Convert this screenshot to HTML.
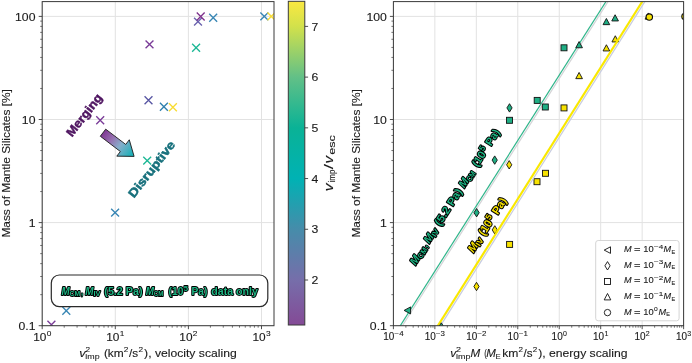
<!DOCTYPE html><html><head><meta charset="utf-8"><style>html,body{margin:0;padding:0;background:#fff;overflow:hidden}svg{display:block;will-change:transform;font-family:"Liberation Sans", sans-serif;}.t{stroke:#1a1a1a;stroke-width:0.12px;}.t2{stroke:#1a1a1a;stroke-width:0.1px;}</style></head><body>
<svg width="692" height="363" viewBox="0 0 692 363">
<defs>
<clipPath id="cl"><rect x="42.2" y="1.6" width="231.8" height="324.09999999999997"/></clipPath>
<clipPath id="cr"><rect x="393.4" y="1.6" width="290.20000000000005" height="324.09999999999997"/></clipPath>
<linearGradient id="cbg" x1="0" y1="0" x2="0" y2="1">
<stop offset="0.0000" stop-color="#fae841"/>
<stop offset="0.0775" stop-color="#d2e14b"/>
<stop offset="0.2342" stop-color="#62c087"/>
<stop offset="0.3909" stop-color="#0ab296"/>
<stop offset="0.5476" stop-color="#00b2b4"/>
<stop offset="0.7043" stop-color="#468caa"/>
<stop offset="0.8610" stop-color="#766eaa"/>
<stop offset="1.0000" stop-color="#844a96"/>
</linearGradient>
<linearGradient id="arrg" gradientUnits="userSpaceOnUse" x1="101" y1="131" x2="132" y2="154"><stop offset="0" stop-color="#7a2a8c"/><stop offset="0.35" stop-color="#9670b0"/><stop offset="0.62" stop-color="#86aecb"/><stop offset="1" stop-color="#1eb0b8"/></linearGradient>
</defs>
<rect width="692" height="363" fill="#fff"/>
<line x1="42.20" y1="1.60" x2="42.20" y2="325.70" stroke="#e2e2e2" stroke-width="1" />
<line x1="115.30" y1="1.60" x2="115.30" y2="325.70" stroke="#e2e2e2" stroke-width="1" />
<line x1="188.40" y1="1.60" x2="188.40" y2="325.70" stroke="#e2e2e2" stroke-width="1" />
<line x1="261.50" y1="1.60" x2="261.50" y2="325.70" stroke="#e2e2e2" stroke-width="1" />
<line x1="42.20" y1="325.70" x2="274.00" y2="325.70" stroke="#e2e2e2" stroke-width="1" />
<line x1="42.20" y1="222.60" x2="274.00" y2="222.60" stroke="#e2e2e2" stroke-width="1" />
<line x1="42.20" y1="119.50" x2="274.00" y2="119.50" stroke="#e2e2e2" stroke-width="1" />
<line x1="42.20" y1="16.40" x2="274.00" y2="16.40" stroke="#e2e2e2" stroke-width="1" />
<g clip-path="url(#cl)">
<path d="M145.55 40.45L153.45 48.35M145.55 48.35L153.45 40.45" stroke="#7a3c98" stroke-width="1.35" fill="none"/>
<path d="M194.05 17.65L201.95 25.55M194.05 25.55L201.95 17.65" stroke="#6a62ae" stroke-width="1.35" fill="none"/>
<path d="M196.75 12.55L204.65 20.45M196.75 20.45L204.65 12.55" stroke="#80348e" stroke-width="1.35" fill="none"/>
<path d="M209.25 13.85L217.15 21.75M209.25 21.75L217.15 13.85" stroke="#3886b4" stroke-width="1.35" fill="none"/>
<path d="M192.15 43.85L200.05 51.75M192.15 51.75L200.05 43.85" stroke="#1eb896" stroke-width="1.35" fill="none"/>
<path d="M260.35 12.45L268.25 20.35M260.35 20.35L268.25 12.45" stroke="#3886b4" stroke-width="1.35" fill="none"/>
<path d="M267.45 12.45L275.35 20.35M267.45 20.35L275.35 12.45" stroke="#f8dc34" stroke-width="1.35" fill="none"/>
<path d="M96.25 116.25L104.15 124.15M96.25 124.15L104.15 116.25" stroke="#7a3c98" stroke-width="1.35" fill="none"/>
<path d="M144.55 96.25L152.45 104.15M144.55 104.15L152.45 96.25" stroke="#5a58a4" stroke-width="1.35" fill="none"/>
<path d="M159.95 102.85L167.85 110.75M159.95 110.75L167.85 102.85" stroke="#2f80ae" stroke-width="1.35" fill="none"/>
<path d="M168.95 103.35L176.85 111.25M168.95 111.25L176.85 103.35" stroke="#f8dc34" stroke-width="1.35" fill="none"/>
<path d="M143.25 156.65L151.15 164.55M143.25 164.55L151.15 156.65" stroke="#1eb896" stroke-width="1.35" fill="none"/>
<path d="M111.15 208.65L119.05 216.55M111.15 216.55L119.05 208.65" stroke="#3886b4" stroke-width="1.35" fill="none"/>
<path d="M62.35 306.75L70.25 314.65M62.35 314.65L70.25 306.75" stroke="#3886b4" stroke-width="1.35" fill="none"/>
<path d="M47.45 320.85L55.35 328.75M47.45 328.75L55.35 320.85" stroke="#7a3c98" stroke-width="1.35" fill="none"/>
</g>
<polygon points="100.30,136.24 120.35,151.51 116.80,156.17 134.10,156.40 129.29,139.78 125.74,144.44 105.70,129.16" fill="url(#arrg)" stroke="#1a1a1a" stroke-width="0.9" stroke-linejoin="miter"/>
<text id="merg" x="0" y="0" font-size="12.1" font-weight="bold" fill="#4e1460" stroke="#4e1460" stroke-width="0.5" transform="translate(71.9,137.6) rotate(-52) " textLength="50.5" lengthAdjust="spacingAndGlyphs">Merging</text>
<text id="disr" x="0" y="0" font-size="12.1" font-weight="bold" fill="#17707c" stroke="#17707c" stroke-width="0.5" transform="translate(134.0,198.5) rotate(-52)" textLength="68" lengthAdjust="spacingAndGlyphs">Disruptive</text>
<rect x="51.3" y="275.0" width="216.5" height="31.6" rx="8" ry="8" fill="#fff" stroke="#2a2a2a" stroke-width="1.2"/>
<g id="lbtx" transform="translate(61.2,294.8)" stroke="#000" stroke-width="1.9" paint-order="stroke" stroke-linejoin="round"><text x="0.40" y="0.00" font-size="10.0" font-style="italic" font-weight="bold" textLength="8.20" lengthAdjust="spacingAndGlyphs" fill="#1db483" >M</text><text x="8.40" y="1.60" font-size="7.0" font-weight="bold" textLength="10.60" lengthAdjust="spacingAndGlyphs" fill="#1db483" >CM</text><text x="19.80" y="0.00" font-size="10.0" font-weight="bold" textLength="2.20" lengthAdjust="spacingAndGlyphs" fill="#1db483" >,</text><text x="24.10" y="0.00" font-size="10.0" font-style="italic" font-weight="bold" textLength="8.30" lengthAdjust="spacingAndGlyphs" fill="#1db483" >M</text><text x="32.20" y="1.60" font-size="7.0" font-weight="bold" textLength="7.00" lengthAdjust="spacingAndGlyphs" fill="#1db483" >IV</text><text x="43.10" y="0.00" font-size="10.0" font-weight="bold" textLength="38.30" lengthAdjust="spacingAndGlyphs" fill="#1db483" >(5.2 Pa)</text><text x="84.50" y="0.00" font-size="10.0" font-style="italic" font-weight="bold" textLength="8.30" lengthAdjust="spacingAndGlyphs" fill="#1db483" >M</text><text x="92.60" y="1.60" font-size="7.0" font-weight="bold" textLength="9.60" lengthAdjust="spacingAndGlyphs" fill="#1db483" >CM</text><text x="107.40" y="0.00" font-size="10.0" font-weight="bold" textLength="14.80" lengthAdjust="spacingAndGlyphs" fill="#1db483" >(10</text><text x="122.50" y="-3.40" font-size="7.6" font-weight="bold" textLength="4.30" lengthAdjust="spacingAndGlyphs" fill="#1db483" >5</text><text x="130.40" y="0.00" font-size="10.0" font-weight="bold" textLength="15.80" lengthAdjust="spacingAndGlyphs" fill="#1db483" >Pa)</text><text x="150.10" y="0.00" font-size="10.0" font-weight="bold" textLength="46.70" lengthAdjust="spacingAndGlyphs" fill="#1db483" >data only</text></g>
<line x1="38.70" y1="325.70" x2="42.20" y2="325.70" stroke="#3a3a3a" stroke-width="0.9" />
<line x1="40.20" y1="294.66" x2="42.20" y2="294.66" stroke="#3a3a3a" stroke-width="0.7" />
<line x1="40.20" y1="276.51" x2="42.20" y2="276.51" stroke="#3a3a3a" stroke-width="0.7" />
<line x1="40.20" y1="263.63" x2="42.20" y2="263.63" stroke="#3a3a3a" stroke-width="0.7" />
<line x1="40.20" y1="253.64" x2="42.20" y2="253.64" stroke="#3a3a3a" stroke-width="0.7" />
<line x1="40.20" y1="245.47" x2="42.20" y2="245.47" stroke="#3a3a3a" stroke-width="0.7" />
<line x1="40.20" y1="238.57" x2="42.20" y2="238.57" stroke="#3a3a3a" stroke-width="0.7" />
<line x1="40.20" y1="232.59" x2="42.20" y2="232.59" stroke="#3a3a3a" stroke-width="0.7" />
<line x1="40.20" y1="227.32" x2="42.20" y2="227.32" stroke="#3a3a3a" stroke-width="0.7" />
<line x1="38.70" y1="222.60" x2="42.20" y2="222.60" stroke="#3a3a3a" stroke-width="0.9" />
<line x1="40.20" y1="191.56" x2="42.20" y2="191.56" stroke="#3a3a3a" stroke-width="0.7" />
<line x1="40.20" y1="173.41" x2="42.20" y2="173.41" stroke="#3a3a3a" stroke-width="0.7" />
<line x1="40.20" y1="160.53" x2="42.20" y2="160.53" stroke="#3a3a3a" stroke-width="0.7" />
<line x1="40.20" y1="150.54" x2="42.20" y2="150.54" stroke="#3a3a3a" stroke-width="0.7" />
<line x1="40.20" y1="142.37" x2="42.20" y2="142.37" stroke="#3a3a3a" stroke-width="0.7" />
<line x1="40.20" y1="135.47" x2="42.20" y2="135.47" stroke="#3a3a3a" stroke-width="0.7" />
<line x1="40.20" y1="129.49" x2="42.20" y2="129.49" stroke="#3a3a3a" stroke-width="0.7" />
<line x1="40.20" y1="124.22" x2="42.20" y2="124.22" stroke="#3a3a3a" stroke-width="0.7" />
<line x1="38.70" y1="119.50" x2="42.20" y2="119.50" stroke="#3a3a3a" stroke-width="0.9" />
<line x1="40.20" y1="88.46" x2="42.20" y2="88.46" stroke="#3a3a3a" stroke-width="0.7" />
<line x1="40.20" y1="70.31" x2="42.20" y2="70.31" stroke="#3a3a3a" stroke-width="0.7" />
<line x1="40.20" y1="57.43" x2="42.20" y2="57.43" stroke="#3a3a3a" stroke-width="0.7" />
<line x1="40.20" y1="47.44" x2="42.20" y2="47.44" stroke="#3a3a3a" stroke-width="0.7" />
<line x1="40.20" y1="39.27" x2="42.20" y2="39.27" stroke="#3a3a3a" stroke-width="0.7" />
<line x1="40.20" y1="32.37" x2="42.20" y2="32.37" stroke="#3a3a3a" stroke-width="0.7" />
<line x1="40.20" y1="26.39" x2="42.20" y2="26.39" stroke="#3a3a3a" stroke-width="0.7" />
<line x1="40.20" y1="21.12" x2="42.20" y2="21.12" stroke="#3a3a3a" stroke-width="0.7" />
<line x1="38.70" y1="16.40" x2="42.20" y2="16.40" stroke="#3a3a3a" stroke-width="0.9" />
<line x1="42.20" y1="325.70" x2="42.20" y2="329.20" stroke="#3a3a3a" stroke-width="0.9" />
<line x1="64.21" y1="325.70" x2="64.21" y2="327.70" stroke="#3a3a3a" stroke-width="0.7" />
<line x1="77.08" y1="325.70" x2="77.08" y2="327.70" stroke="#3a3a3a" stroke-width="0.7" />
<line x1="86.21" y1="325.70" x2="86.21" y2="327.70" stroke="#3a3a3a" stroke-width="0.7" />
<line x1="93.29" y1="325.70" x2="93.29" y2="327.70" stroke="#3a3a3a" stroke-width="0.7" />
<line x1="99.08" y1="325.70" x2="99.08" y2="327.70" stroke="#3a3a3a" stroke-width="0.7" />
<line x1="103.98" y1="325.70" x2="103.98" y2="327.70" stroke="#3a3a3a" stroke-width="0.7" />
<line x1="108.22" y1="325.70" x2="108.22" y2="327.70" stroke="#3a3a3a" stroke-width="0.7" />
<line x1="111.96" y1="325.70" x2="111.96" y2="327.70" stroke="#3a3a3a" stroke-width="0.7" />
<line x1="115.30" y1="325.70" x2="115.30" y2="329.20" stroke="#3a3a3a" stroke-width="0.9" />
<line x1="137.31" y1="325.70" x2="137.31" y2="327.70" stroke="#3a3a3a" stroke-width="0.7" />
<line x1="150.18" y1="325.70" x2="150.18" y2="327.70" stroke="#3a3a3a" stroke-width="0.7" />
<line x1="159.31" y1="325.70" x2="159.31" y2="327.70" stroke="#3a3a3a" stroke-width="0.7" />
<line x1="166.39" y1="325.70" x2="166.39" y2="327.70" stroke="#3a3a3a" stroke-width="0.7" />
<line x1="172.18" y1="325.70" x2="172.18" y2="327.70" stroke="#3a3a3a" stroke-width="0.7" />
<line x1="177.08" y1="325.70" x2="177.08" y2="327.70" stroke="#3a3a3a" stroke-width="0.7" />
<line x1="181.32" y1="325.70" x2="181.32" y2="327.70" stroke="#3a3a3a" stroke-width="0.7" />
<line x1="185.06" y1="325.70" x2="185.06" y2="327.70" stroke="#3a3a3a" stroke-width="0.7" />
<line x1="188.40" y1="325.70" x2="188.40" y2="329.20" stroke="#3a3a3a" stroke-width="0.9" />
<line x1="210.41" y1="325.70" x2="210.41" y2="327.70" stroke="#3a3a3a" stroke-width="0.7" />
<line x1="223.28" y1="325.70" x2="223.28" y2="327.70" stroke="#3a3a3a" stroke-width="0.7" />
<line x1="232.41" y1="325.70" x2="232.41" y2="327.70" stroke="#3a3a3a" stroke-width="0.7" />
<line x1="239.49" y1="325.70" x2="239.49" y2="327.70" stroke="#3a3a3a" stroke-width="0.7" />
<line x1="245.28" y1="325.70" x2="245.28" y2="327.70" stroke="#3a3a3a" stroke-width="0.7" />
<line x1="250.18" y1="325.70" x2="250.18" y2="327.70" stroke="#3a3a3a" stroke-width="0.7" />
<line x1="254.42" y1="325.70" x2="254.42" y2="327.70" stroke="#3a3a3a" stroke-width="0.7" />
<line x1="258.16" y1="325.70" x2="258.16" y2="327.70" stroke="#3a3a3a" stroke-width="0.7" />
<line x1="261.50" y1="325.70" x2="261.50" y2="329.20" stroke="#3a3a3a" stroke-width="0.9" />
<rect x="42.2" y="1.6" width="231.8" height="324.09999999999997" fill="none" stroke="#3a3a3a" stroke-width="1"/>
<text class="t" transform="translate(35.50,329.90) scale(1.095,1)" font-size="11.2" text-anchor="end" fill="#1a1a1a" >0.1</text>
<text class="t" transform="translate(386.90,329.90) scale(1.095,1)" font-size="11.2" text-anchor="end" fill="#1a1a1a" >0.1</text>
<text class="t" transform="translate(35.50,226.80) scale(1.095,1)" font-size="11.2" text-anchor="end" fill="#1a1a1a" >1</text>
<text class="t" transform="translate(386.90,226.80) scale(1.095,1)" font-size="11.2" text-anchor="end" fill="#1a1a1a" >1</text>
<text class="t" transform="translate(35.50,123.70) scale(1.095,1)" font-size="11.2" text-anchor="end" fill="#1a1a1a" >10</text>
<text class="t" transform="translate(386.90,123.70) scale(1.095,1)" font-size="11.2" text-anchor="end" fill="#1a1a1a" >10</text>
<text class="t" transform="translate(35.50,20.60) scale(1.095,1)" font-size="11.2" text-anchor="end" fill="#1a1a1a" >100</text>
<text class="t" transform="translate(386.90,20.60) scale(1.095,1)" font-size="11.2" text-anchor="end" fill="#1a1a1a" >100</text>
<g transform="translate(33.13,340.7)"><text class="t" x="0.00" y="0.00" font-size="11.2" textLength="13.20" lengthAdjust="spacingAndGlyphs" fill="#1a1a1a" >10</text><text class="t2" x="13.50" y="-4.90" font-size="7.6" textLength="4.64" lengthAdjust="spacingAndGlyphs" fill="#1a1a1a" >0</text></g>
<g transform="translate(106.23,340.7)"><text class="t" x="0.00" y="0.00" font-size="11.2" textLength="13.20" lengthAdjust="spacingAndGlyphs" fill="#1a1a1a" >10</text><text class="t2" x="13.50" y="-4.90" font-size="7.6" textLength="4.64" lengthAdjust="spacingAndGlyphs" fill="#1a1a1a" >1</text></g>
<g transform="translate(179.33,340.7)"><text class="t" x="0.00" y="0.00" font-size="11.2" textLength="13.20" lengthAdjust="spacingAndGlyphs" fill="#1a1a1a" >10</text><text class="t2" x="13.50" y="-4.90" font-size="7.6" textLength="4.64" lengthAdjust="spacingAndGlyphs" fill="#1a1a1a" >2</text></g>
<g transform="translate(252.43,340.7)"><text class="t" x="0.00" y="0.00" font-size="11.2" textLength="13.20" lengthAdjust="spacingAndGlyphs" fill="#1a1a1a" >10</text><text class="t2" x="13.50" y="-4.90" font-size="7.6" textLength="4.64" lengthAdjust="spacingAndGlyphs" fill="#1a1a1a" >3</text></g>
<g transform="translate(383.21,339.5)"><text class="t" x="0.00" y="0.00" font-size="10.08" textLength="11.09" lengthAdjust="spacingAndGlyphs" fill="#1a1a1a" >10</text><text class="t2" x="11.34" y="-3.50" font-size="6.38" textLength="9.04" lengthAdjust="spacingAndGlyphs" fill="#1a1a1a" >&#8722;4</text></g>
<g transform="translate(424.67,339.5)"><text class="t" x="0.00" y="0.00" font-size="10.08" textLength="11.09" lengthAdjust="spacingAndGlyphs" fill="#1a1a1a" >10</text><text class="t2" x="11.34" y="-3.50" font-size="6.38" textLength="9.04" lengthAdjust="spacingAndGlyphs" fill="#1a1a1a" >&#8722;3</text></g>
<g transform="translate(466.13,339.5)"><text class="t" x="0.00" y="0.00" font-size="10.08" textLength="11.09" lengthAdjust="spacingAndGlyphs" fill="#1a1a1a" >10</text><text class="t2" x="11.34" y="-3.50" font-size="6.38" textLength="9.04" lengthAdjust="spacingAndGlyphs" fill="#1a1a1a" >&#8722;2</text></g>
<g transform="translate(507.59,339.5)"><text class="t" x="0.00" y="0.00" font-size="10.08" textLength="11.09" lengthAdjust="spacingAndGlyphs" fill="#1a1a1a" >10</text><text class="t2" x="11.34" y="-3.50" font-size="6.38" textLength="9.04" lengthAdjust="spacingAndGlyphs" fill="#1a1a1a" >&#8722;1</text></g>
<g transform="translate(551.62,339.5)"><text class="t" x="0.00" y="0.00" font-size="10.08" textLength="11.09" lengthAdjust="spacingAndGlyphs" fill="#1a1a1a" >10</text><text class="t2" x="11.34" y="-3.50" font-size="6.38" textLength="3.90" lengthAdjust="spacingAndGlyphs" fill="#1a1a1a" >0</text></g>
<g transform="translate(593.08,339.5)"><text class="t" x="0.00" y="0.00" font-size="10.08" textLength="11.09" lengthAdjust="spacingAndGlyphs" fill="#1a1a1a" >10</text><text class="t2" x="11.34" y="-3.50" font-size="6.38" textLength="3.90" lengthAdjust="spacingAndGlyphs" fill="#1a1a1a" >1</text></g>
<g transform="translate(634.54,339.5)"><text class="t" x="0.00" y="0.00" font-size="10.08" textLength="11.09" lengthAdjust="spacingAndGlyphs" fill="#1a1a1a" >10</text><text class="t2" x="11.34" y="-3.50" font-size="6.38" textLength="3.90" lengthAdjust="spacingAndGlyphs" fill="#1a1a1a" >2</text></g>
<g transform="translate(676.00,339.5)"><text class="t" x="0.00" y="0.00" font-size="10.08" textLength="11.09" lengthAdjust="spacingAndGlyphs" fill="#1a1a1a" >10</text><text class="t2" x="11.34" y="-3.50" font-size="6.38" textLength="3.90" lengthAdjust="spacingAndGlyphs" fill="#1a1a1a" >3</text></g>
<text class="t" transform="translate(9.9,237.6) rotate(-90)" font-size="11.2" fill="#1a1a1a" textLength="148.4" lengthAdjust="spacingAndGlyphs">Mass of Mantle Silicates [%]</text>
<text class="t" transform="translate(360.2,237.6) rotate(-90)" font-size="11.2" fill="#1a1a1a" textLength="148.4" lengthAdjust="spacingAndGlyphs">Mass of Mantle Silicates [%]</text>
<g><text class="t" x="79.20" y="356.60" font-size="11.2" font-style="italic" textLength="6.40" lengthAdjust="spacingAndGlyphs" fill="#1a1a1a" >v</text><text class="t2" x="85.40" y="352.40" font-size="8.1" textLength="4.60" lengthAdjust="spacingAndGlyphs" fill="#1a1a1a" >2</text><text class="t2" x="85.30" y="358.60" font-size="8.1" textLength="14.30" lengthAdjust="spacingAndGlyphs" fill="#1a1a1a" >imp</text><text class="t" x="103.90" y="356.60" font-size="11.2" textLength="19.90" lengthAdjust="spacingAndGlyphs" fill="#1a1a1a" >(km</text><text class="t2" x="123.80" y="352.40" font-size="8.1" textLength="4.60" lengthAdjust="spacingAndGlyphs" fill="#1a1a1a" >2</text><text class="t" x="128.90" y="356.60" font-size="11.2" textLength="9.10" lengthAdjust="spacingAndGlyphs" fill="#1a1a1a" >/s</text><text class="t2" x="138.40" y="352.40" font-size="8.1" textLength="4.60" lengthAdjust="spacingAndGlyphs" fill="#1a1a1a" >2</text><text class="t" x="144.10" y="356.60" font-size="11.2" textLength="92.60" lengthAdjust="spacingAndGlyphs" fill="#1a1a1a" >), velocity scaling</text></g>
<g><text class="t" x="450.30" y="356.60" font-size="11.2" font-style="italic" textLength="6.00" lengthAdjust="spacingAndGlyphs" fill="#1a1a1a" >v</text><text class="t2" x="456.00" y="352.40" font-size="8.1" textLength="5.00" lengthAdjust="spacingAndGlyphs" fill="#1a1a1a" >2</text><text class="t2" x="456.00" y="358.60" font-size="8.1" textLength="14.40" lengthAdjust="spacingAndGlyphs" fill="#1a1a1a" >imp</text><text class="t" x="470.50" y="356.60" font-size="11.2" font-style="italic" textLength="9.70" lengthAdjust="spacingAndGlyphs" fill="#1a1a1a" >M</text><text class="t" x="484.20" y="356.60" font-size="11.2" textLength="2.60" lengthAdjust="spacingAndGlyphs" fill="#1a1a1a" >(</text><text class="t" x="486.30" y="356.60" font-size="11.2" font-style="italic" textLength="9.60" lengthAdjust="spacingAndGlyphs" fill="#1a1a1a" >M</text><text class="t2" x="495.50" y="358.60" font-size="8.1" textLength="5.20" lengthAdjust="spacingAndGlyphs" fill="#1a1a1a" >E</text><text class="t" x="502.20" y="356.60" font-size="11.2" textLength="16.20" lengthAdjust="spacingAndGlyphs" fill="#1a1a1a" >km</text><text class="t2" x="518.50" y="352.40" font-size="8.1" textLength="4.50" lengthAdjust="spacingAndGlyphs" fill="#1a1a1a" >2</text><text class="t" x="523.60" y="356.60" font-size="11.2" textLength="9.00" lengthAdjust="spacingAndGlyphs" fill="#1a1a1a" >/s</text><text class="t2" x="532.70" y="352.40" font-size="8.1" textLength="4.50" lengthAdjust="spacingAndGlyphs" fill="#1a1a1a" >2</text><text class="t" x="538.20" y="356.60" font-size="11.2" textLength="89.30" lengthAdjust="spacingAndGlyphs" fill="#1a1a1a" >), energy scaling</text></g>
<rect x="288.3" y="1.3" width="16.5" height="323.7" fill="url(#cbg)" stroke="#3a3a3a" stroke-width="1"/>
<line x1="304.80" y1="280.00" x2="308.10" y2="280.00" stroke="#3a3a3a" stroke-width="0.9" />
<text class="t" transform="translate(311.40,284.20) scale(1.095,1)" font-size="11.2" text-anchor="start" fill="#1a1a1a" >2</text>
<line x1="304.80" y1="229.28" x2="308.10" y2="229.28" stroke="#3a3a3a" stroke-width="0.9" />
<text class="t" transform="translate(311.40,233.48) scale(1.095,1)" font-size="11.2" text-anchor="start" fill="#1a1a1a" >3</text>
<line x1="304.80" y1="178.56" x2="308.10" y2="178.56" stroke="#3a3a3a" stroke-width="0.9" />
<text class="t" transform="translate(311.40,182.76) scale(1.095,1)" font-size="11.2" text-anchor="start" fill="#1a1a1a" >4</text>
<line x1="304.80" y1="127.84" x2="308.10" y2="127.84" stroke="#3a3a3a" stroke-width="0.9" />
<text class="t" transform="translate(311.40,132.04) scale(1.095,1)" font-size="11.2" text-anchor="start" fill="#1a1a1a" >5</text>
<line x1="304.80" y1="77.12" x2="308.10" y2="77.12" stroke="#3a3a3a" stroke-width="0.9" />
<text class="t" transform="translate(311.40,81.32) scale(1.095,1)" font-size="11.2" text-anchor="start" fill="#1a1a1a" >6</text>
<line x1="304.80" y1="26.40" x2="308.10" y2="26.40" stroke="#3a3a3a" stroke-width="0.9" />
<text class="t" transform="translate(311.40,30.60) scale(1.095,1)" font-size="11.2" text-anchor="start" fill="#1a1a1a" >7</text>
<g transform="translate(332.6,191.4) rotate(-90)"><text class="t" x="0.10" y="0.00" font-size="12.9" font-style="italic" textLength="7.80" lengthAdjust="spacingAndGlyphs" fill="#1a1a1a" >v</text><text class="t" x="9.00" y="2.40" font-size="9.0" textLength="12.80" lengthAdjust="spacingAndGlyphs" fill="#1a1a1a" >imp</text><text class="t" x="22.10" y="0.00" font-size="12.9" textLength="5.20" lengthAdjust="spacingAndGlyphs" fill="#1a1a1a" >/</text><text class="t" x="28.00" y="0.00" font-size="12.9" font-style="italic" textLength="7.60" lengthAdjust="spacingAndGlyphs" fill="#1a1a1a" >v</text><text class="t" x="36.70" y="2.40" font-size="9.0" textLength="19.60" lengthAdjust="spacingAndGlyphs" fill="#1a1a1a" >esc</text></g>
<line x1="393.40" y1="1.60" x2="393.40" y2="325.70" stroke="#e2e2e2" stroke-width="1" />
<line x1="434.86" y1="1.60" x2="434.86" y2="325.70" stroke="#e2e2e2" stroke-width="1" />
<line x1="476.32" y1="1.60" x2="476.32" y2="325.70" stroke="#e2e2e2" stroke-width="1" />
<line x1="517.78" y1="1.60" x2="517.78" y2="325.70" stroke="#e2e2e2" stroke-width="1" />
<line x1="559.24" y1="1.60" x2="559.24" y2="325.70" stroke="#e2e2e2" stroke-width="1" />
<line x1="600.70" y1="1.60" x2="600.70" y2="325.70" stroke="#e2e2e2" stroke-width="1" />
<line x1="642.16" y1="1.60" x2="642.16" y2="325.70" stroke="#e2e2e2" stroke-width="1" />
<line x1="683.62" y1="1.60" x2="683.62" y2="325.70" stroke="#e2e2e2" stroke-width="1" />
<line x1="393.40" y1="325.70" x2="683.60" y2="325.70" stroke="#e2e2e2" stroke-width="1" />
<line x1="393.40" y1="222.60" x2="683.60" y2="222.60" stroke="#e2e2e2" stroke-width="1" />
<line x1="393.40" y1="119.50" x2="683.60" y2="119.50" stroke="#e2e2e2" stroke-width="1" />
<line x1="393.40" y1="16.40" x2="683.60" y2="16.40" stroke="#e2e2e2" stroke-width="1" />
<g clip-path="url(#cr)">
<polygon points="494.80,225.70 497.40,229.90 494.80,234.10 492.20,229.90" fill="#f7e200" stroke="#111" stroke-width="0.9"/>
<polygon points="648.40,12.95 645.05,19.15 651.75,19.15" fill="#f7e200" stroke="#111" stroke-width="0.9"/>
<polygon points="476.50,282.30 479.10,286.50 476.50,290.70 473.90,286.50" fill="#f7e200" stroke="#111" stroke-width="0.9"/>
<polygon points="509.20,160.60 511.80,164.80 509.20,169.00 506.60,164.80" fill="#f7e200" stroke="#111" stroke-width="0.9"/>
<rect x="506.60" y="241.40" width="6.00" height="6.00" fill="#f7e200" stroke="#111" stroke-width="0.9"/>
<rect x="534.00" y="178.70" width="6.00" height="6.00" fill="#f7e200" stroke="#111" stroke-width="0.9"/>
<rect x="542.50" y="170.30" width="6.00" height="6.00" fill="#f7e200" stroke="#111" stroke-width="0.9"/>
<rect x="561.00" y="104.90" width="6.00" height="6.00" fill="#f7e200" stroke="#111" stroke-width="0.9"/>
<polygon points="579.10,72.45 575.75,78.65 582.45,78.65" fill="#f7e200" stroke="#111" stroke-width="0.9"/>
<polygon points="606.40,44.75 603.05,50.95 609.75,50.95" fill="#f7e200" stroke="#111" stroke-width="0.9"/>
<polygon points="615.30,35.75 611.95,41.95 618.65,41.95" fill="#f7e200" stroke="#111" stroke-width="0.9"/>
<circle cx="649.30" cy="17.10" r="3.2" fill="#f7e200" stroke="#111" stroke-width="1.1"/>
<circle cx="685.00" cy="16.50" r="3.2" fill="#f7e200" stroke="#111" stroke-width="1.1"/>
<line x1="398.42" y1="332.00" x2="610.41" y2="-2.10" stroke="#d3d3d6" stroke-width="1.2" />
<line x1="397.12" y1="330.70" x2="609.11" y2="-3.40" stroke="#2fb58a" stroke-width="1.2" />
<line x1="436.34" y1="332.30" x2="647.00" y2="-1.80" stroke="#c8cce0" stroke-width="1.3" />
<line x1="434.74" y1="330.70" x2="645.40" y2="-3.40" stroke="#f9e800" stroke-width="2.15" />
<polygon points="404.10,310.40 410.58,306.90 410.58,313.90" fill="#1fae84" stroke="#111" stroke-width="0.9"/>
<polygon points="441.30,322.80 443.90,327.00 441.30,331.20 438.70,327.00" fill="#1fae84" stroke="#111" stroke-width="0.9"/>
<polygon points="476.60,208.50 479.20,212.70 476.60,216.90 474.00,212.70" fill="#1fae84" stroke="#111" stroke-width="0.9"/>
<polygon points="494.70,155.90 497.30,160.10 494.70,164.30 492.10,160.10" fill="#1fae84" stroke="#111" stroke-width="0.9"/>
<polygon points="509.50,103.70 512.10,107.90 509.50,112.10 506.90,107.90" fill="#1fae84" stroke="#111" stroke-width="0.9"/>
<rect x="506.50" y="117.30" width="6.00" height="6.00" fill="#1fae84" stroke="#111" stroke-width="0.9"/>
<rect x="534.20" y="97.40" width="6.00" height="6.00" fill="#1fae84" stroke="#111" stroke-width="0.9"/>
<rect x="542.30" y="104.00" width="6.00" height="6.00" fill="#1fae84" stroke="#111" stroke-width="0.9"/>
<rect x="561.00" y="44.80" width="6.00" height="6.00" fill="#1fae84" stroke="#111" stroke-width="0.9"/>
<polygon points="579.10,41.55 575.75,47.75 582.45,47.75" fill="#1fae84" stroke="#111" stroke-width="0.9"/>
<polygon points="606.40,18.45 603.05,24.65 609.75,24.65" fill="#1fae84" stroke="#111" stroke-width="0.9"/>
<polygon points="615.10,14.75 611.75,20.95 618.45,20.95" fill="#1fae84" stroke="#111" stroke-width="0.9"/>
</g>
<g id="glab" transform="translate(415.2,266.0) rotate(-57.6) scale(1.085)" stroke="#000" stroke-width="1.9" paint-order="stroke" stroke-linejoin="round"><text x="0.40" y="0.00" font-size="10.0" font-style="italic" font-weight="bold" textLength="8.20" lengthAdjust="spacingAndGlyphs" fill="#1db483" >M</text><text x="8.40" y="1.60" font-size="7.0" font-weight="bold" textLength="10.60" lengthAdjust="spacingAndGlyphs" fill="#1db483" >CM</text><text x="19.80" y="0.00" font-size="10.0" font-weight="bold" textLength="2.20" lengthAdjust="spacingAndGlyphs" fill="#1db483" >,</text><text x="24.10" y="0.00" font-size="10.0" font-style="italic" font-weight="bold" textLength="8.30" lengthAdjust="spacingAndGlyphs" fill="#1db483" >M</text><text x="32.20" y="1.60" font-size="7.0" font-weight="bold" textLength="7.00" lengthAdjust="spacingAndGlyphs" fill="#1db483" >IV</text><text x="43.10" y="0.00" font-size="10.0" font-weight="bold" textLength="38.30" lengthAdjust="spacingAndGlyphs" fill="#1db483" >(5.2 Pa)</text><text x="84.50" y="0.00" font-size="10.0" font-style="italic" font-weight="bold" textLength="8.30" lengthAdjust="spacingAndGlyphs" fill="#1db483" >M</text><text x="92.60" y="1.60" font-size="7.0" font-weight="bold" textLength="9.60" lengthAdjust="spacingAndGlyphs" fill="#1db483" >CM</text><text x="107.40" y="0.00" font-size="10.0" font-weight="bold" textLength="14.80" lengthAdjust="spacingAndGlyphs" fill="#1db483" >(10</text><text x="122.50" y="-3.40" font-size="7.6" font-weight="bold" textLength="4.30" lengthAdjust="spacingAndGlyphs" fill="#1db483" >5</text><text x="130.40" y="0.00" font-size="10.0" font-weight="bold" textLength="15.80" lengthAdjust="spacingAndGlyphs" fill="#1db483" >Pa)</text></g>
<g id="ylab" transform="translate(473.3,253.6) rotate(-57.6) scale(1.1)" stroke="#000" stroke-width="1.9" paint-order="stroke" stroke-linejoin="round"><text x="0.40" y="0.00" font-size="10.0" font-style="italic" font-weight="bold" textLength="8.30" lengthAdjust="spacingAndGlyphs" fill="#f5e000" >M</text><text x="8.50" y="1.60" font-size="7.0" font-weight="bold" textLength="7.00" lengthAdjust="spacingAndGlyphs" fill="#f5e000" >IV</text><text x="18.70" y="0.00" font-size="10.0" font-weight="bold" textLength="14.40" lengthAdjust="spacingAndGlyphs" fill="#f5e000" >(10</text><text x="33.40" y="-3.40" font-size="7.6" font-weight="bold" textLength="4.30" lengthAdjust="spacingAndGlyphs" fill="#f5e000" >5</text><text x="41.30" y="0.00" font-size="10.0" font-weight="bold" textLength="15.80" lengthAdjust="spacingAndGlyphs" fill="#f5e000" >Pa)</text></g>
<rect x="595.7" y="240.5" width="83.4" height="80.3" rx="2.5" ry="2.5" fill="#fff" fill-opacity="0.92" stroke="#d0d0d0" stroke-width="0.9"/>
<polygon points="604.20,250.10 610.50,246.80 610.50,253.40" fill="#fff" stroke="#111" stroke-width="0.9"/>
<g><text class="t2" x="624.10" y="252.05" font-size="8.35" font-style="italic" textLength="7.60" lengthAdjust="spacingAndGlyphs" fill="#1a1a1a" >M</text><text class="t2" x="634.10" y="252.05" font-size="8.35" textLength="6.50" lengthAdjust="spacingAndGlyphs" fill="#1a1a1a" >=</text><text class="t2" x="643.20" y="252.05" font-size="8.35" textLength="10.40" lengthAdjust="spacingAndGlyphs" fill="#1a1a1a" >10</text><text class="t2" x="654.10" y="248.75" font-size="6.2" textLength="9.30" lengthAdjust="spacingAndGlyphs" fill="#1a1a1a" >&#8722;4</text><text class="t2" x="663.60" y="252.05" font-size="8.35" font-style="italic" textLength="7.60" lengthAdjust="spacingAndGlyphs" fill="#1a1a1a" >M</text><text class="t2" x="671.40" y="253.75" font-size="6.2" textLength="3.70" lengthAdjust="spacingAndGlyphs" fill="#1a1a1a" >E</text></g>
<polygon points="607.50,261.60 610.10,265.80 607.50,270.00 604.90,265.80" fill="#fff" stroke="#111" stroke-width="0.9"/>
<g><text class="t2" x="624.10" y="267.75" font-size="8.35" font-style="italic" textLength="7.60" lengthAdjust="spacingAndGlyphs" fill="#1a1a1a" >M</text><text class="t2" x="634.10" y="267.75" font-size="8.35" textLength="6.50" lengthAdjust="spacingAndGlyphs" fill="#1a1a1a" >=</text><text class="t2" x="643.20" y="267.75" font-size="8.35" textLength="10.40" lengthAdjust="spacingAndGlyphs" fill="#1a1a1a" >10</text><text class="t2" x="654.10" y="264.45" font-size="6.2" textLength="9.30" lengthAdjust="spacingAndGlyphs" fill="#1a1a1a" >&#8722;3</text><text class="t2" x="663.60" y="267.75" font-size="8.35" font-style="italic" textLength="7.60" lengthAdjust="spacingAndGlyphs" fill="#1a1a1a" >M</text><text class="t2" x="671.40" y="269.45" font-size="6.2" textLength="3.70" lengthAdjust="spacingAndGlyphs" fill="#1a1a1a" >E</text></g>
<rect x="604.50" y="278.50" width="6" height="6" fill="#fff" stroke="#111" stroke-width="0.9"/>
<g><text class="t2" x="624.10" y="283.45" font-size="8.35" font-style="italic" textLength="7.60" lengthAdjust="spacingAndGlyphs" fill="#1a1a1a" >M</text><text class="t2" x="634.10" y="283.45" font-size="8.35" textLength="6.50" lengthAdjust="spacingAndGlyphs" fill="#1a1a1a" >=</text><text class="t2" x="643.20" y="283.45" font-size="8.35" textLength="10.40" lengthAdjust="spacingAndGlyphs" fill="#1a1a1a" >10</text><text class="t2" x="654.10" y="280.15" font-size="6.2" textLength="9.30" lengthAdjust="spacingAndGlyphs" fill="#1a1a1a" >&#8722;2</text><text class="t2" x="663.60" y="283.45" font-size="8.35" font-style="italic" textLength="7.60" lengthAdjust="spacingAndGlyphs" fill="#1a1a1a" >M</text><text class="t2" x="671.40" y="285.15" font-size="6.2" textLength="3.70" lengthAdjust="spacingAndGlyphs" fill="#1a1a1a" >E</text></g>
<polygon points="607.50,293.50 604.20,299.90 610.80,299.90" fill="#fff" stroke="#111" stroke-width="0.9"/>
<g><text class="t2" x="624.10" y="298.85" font-size="8.35" font-style="italic" textLength="7.60" lengthAdjust="spacingAndGlyphs" fill="#1a1a1a" >M</text><text class="t2" x="634.10" y="298.85" font-size="8.35" textLength="6.50" lengthAdjust="spacingAndGlyphs" fill="#1a1a1a" >=</text><text class="t2" x="643.20" y="298.85" font-size="8.35" textLength="10.40" lengthAdjust="spacingAndGlyphs" fill="#1a1a1a" >10</text><text class="t2" x="654.10" y="295.55" font-size="6.2" textLength="9.30" lengthAdjust="spacingAndGlyphs" fill="#1a1a1a" >&#8722;1</text><text class="t2" x="663.60" y="298.85" font-size="8.35" font-style="italic" textLength="7.60" lengthAdjust="spacingAndGlyphs" fill="#1a1a1a" >M</text><text class="t2" x="671.40" y="300.55" font-size="6.2" textLength="3.70" lengthAdjust="spacingAndGlyphs" fill="#1a1a1a" >E</text></g>
<circle cx="607.50" cy="312.60" r="3.2" fill="#fff" stroke="#111" stroke-width="0.9"/>
<g><text class="t2" x="624.10" y="314.55" font-size="8.35" font-style="italic" textLength="7.60" lengthAdjust="spacingAndGlyphs" fill="#1a1a1a" >M</text><text class="t2" x="634.10" y="314.55" font-size="8.35" textLength="6.50" lengthAdjust="spacingAndGlyphs" fill="#1a1a1a" >=</text><text class="t2" x="643.20" y="314.55" font-size="8.35" textLength="10.40" lengthAdjust="spacingAndGlyphs" fill="#1a1a1a" >10</text><text class="t2" x="654.10" y="311.25" font-size="6.2" textLength="3.70" lengthAdjust="spacingAndGlyphs" fill="#1a1a1a" >0</text><text class="t2" x="658.40" y="314.55" font-size="8.35" font-style="italic" textLength="7.60" lengthAdjust="spacingAndGlyphs" fill="#1a1a1a" >M</text><text class="t2" x="666.20" y="316.25" font-size="6.2" textLength="3.70" lengthAdjust="spacingAndGlyphs" fill="#1a1a1a" >E</text></g>
<line x1="389.90" y1="325.70" x2="393.40" y2="325.70" stroke="#3a3a3a" stroke-width="0.9" />
<line x1="391.40" y1="294.66" x2="393.40" y2="294.66" stroke="#3a3a3a" stroke-width="0.7" />
<line x1="391.40" y1="276.51" x2="393.40" y2="276.51" stroke="#3a3a3a" stroke-width="0.7" />
<line x1="391.40" y1="263.63" x2="393.40" y2="263.63" stroke="#3a3a3a" stroke-width="0.7" />
<line x1="391.40" y1="253.64" x2="393.40" y2="253.64" stroke="#3a3a3a" stroke-width="0.7" />
<line x1="391.40" y1="245.47" x2="393.40" y2="245.47" stroke="#3a3a3a" stroke-width="0.7" />
<line x1="391.40" y1="238.57" x2="393.40" y2="238.57" stroke="#3a3a3a" stroke-width="0.7" />
<line x1="391.40" y1="232.59" x2="393.40" y2="232.59" stroke="#3a3a3a" stroke-width="0.7" />
<line x1="391.40" y1="227.32" x2="393.40" y2="227.32" stroke="#3a3a3a" stroke-width="0.7" />
<line x1="389.90" y1="222.60" x2="393.40" y2="222.60" stroke="#3a3a3a" stroke-width="0.9" />
<line x1="391.40" y1="191.56" x2="393.40" y2="191.56" stroke="#3a3a3a" stroke-width="0.7" />
<line x1="391.40" y1="173.41" x2="393.40" y2="173.41" stroke="#3a3a3a" stroke-width="0.7" />
<line x1="391.40" y1="160.53" x2="393.40" y2="160.53" stroke="#3a3a3a" stroke-width="0.7" />
<line x1="391.40" y1="150.54" x2="393.40" y2="150.54" stroke="#3a3a3a" stroke-width="0.7" />
<line x1="391.40" y1="142.37" x2="393.40" y2="142.37" stroke="#3a3a3a" stroke-width="0.7" />
<line x1="391.40" y1="135.47" x2="393.40" y2="135.47" stroke="#3a3a3a" stroke-width="0.7" />
<line x1="391.40" y1="129.49" x2="393.40" y2="129.49" stroke="#3a3a3a" stroke-width="0.7" />
<line x1="391.40" y1="124.22" x2="393.40" y2="124.22" stroke="#3a3a3a" stroke-width="0.7" />
<line x1="389.90" y1="119.50" x2="393.40" y2="119.50" stroke="#3a3a3a" stroke-width="0.9" />
<line x1="391.40" y1="88.46" x2="393.40" y2="88.46" stroke="#3a3a3a" stroke-width="0.7" />
<line x1="391.40" y1="70.31" x2="393.40" y2="70.31" stroke="#3a3a3a" stroke-width="0.7" />
<line x1="391.40" y1="57.43" x2="393.40" y2="57.43" stroke="#3a3a3a" stroke-width="0.7" />
<line x1="391.40" y1="47.44" x2="393.40" y2="47.44" stroke="#3a3a3a" stroke-width="0.7" />
<line x1="391.40" y1="39.27" x2="393.40" y2="39.27" stroke="#3a3a3a" stroke-width="0.7" />
<line x1="391.40" y1="32.37" x2="393.40" y2="32.37" stroke="#3a3a3a" stroke-width="0.7" />
<line x1="391.40" y1="26.39" x2="393.40" y2="26.39" stroke="#3a3a3a" stroke-width="0.7" />
<line x1="391.40" y1="21.12" x2="393.40" y2="21.12" stroke="#3a3a3a" stroke-width="0.7" />
<line x1="389.90" y1="16.40" x2="393.40" y2="16.40" stroke="#3a3a3a" stroke-width="0.9" />
<line x1="393.40" y1="325.70" x2="393.40" y2="329.20" stroke="#3a3a3a" stroke-width="0.9" />
<line x1="405.88" y1="325.70" x2="405.88" y2="327.70" stroke="#3a3a3a" stroke-width="0.7" />
<line x1="413.18" y1="325.70" x2="413.18" y2="327.70" stroke="#3a3a3a" stroke-width="0.7" />
<line x1="418.36" y1="325.70" x2="418.36" y2="327.70" stroke="#3a3a3a" stroke-width="0.7" />
<line x1="422.38" y1="325.70" x2="422.38" y2="327.70" stroke="#3a3a3a" stroke-width="0.7" />
<line x1="425.66" y1="325.70" x2="425.66" y2="327.70" stroke="#3a3a3a" stroke-width="0.7" />
<line x1="428.44" y1="325.70" x2="428.44" y2="327.70" stroke="#3a3a3a" stroke-width="0.7" />
<line x1="430.84" y1="325.70" x2="430.84" y2="327.70" stroke="#3a3a3a" stroke-width="0.7" />
<line x1="432.96" y1="325.70" x2="432.96" y2="327.70" stroke="#3a3a3a" stroke-width="0.7" />
<line x1="434.86" y1="325.70" x2="434.86" y2="329.20" stroke="#3a3a3a" stroke-width="0.9" />
<line x1="447.34" y1="325.70" x2="447.34" y2="327.70" stroke="#3a3a3a" stroke-width="0.7" />
<line x1="454.64" y1="325.70" x2="454.64" y2="327.70" stroke="#3a3a3a" stroke-width="0.7" />
<line x1="459.82" y1="325.70" x2="459.82" y2="327.70" stroke="#3a3a3a" stroke-width="0.7" />
<line x1="463.84" y1="325.70" x2="463.84" y2="327.70" stroke="#3a3a3a" stroke-width="0.7" />
<line x1="467.12" y1="325.70" x2="467.12" y2="327.70" stroke="#3a3a3a" stroke-width="0.7" />
<line x1="469.90" y1="325.70" x2="469.90" y2="327.70" stroke="#3a3a3a" stroke-width="0.7" />
<line x1="472.30" y1="325.70" x2="472.30" y2="327.70" stroke="#3a3a3a" stroke-width="0.7" />
<line x1="474.42" y1="325.70" x2="474.42" y2="327.70" stroke="#3a3a3a" stroke-width="0.7" />
<line x1="476.32" y1="325.70" x2="476.32" y2="329.20" stroke="#3a3a3a" stroke-width="0.9" />
<line x1="488.80" y1="325.70" x2="488.80" y2="327.70" stroke="#3a3a3a" stroke-width="0.7" />
<line x1="496.10" y1="325.70" x2="496.10" y2="327.70" stroke="#3a3a3a" stroke-width="0.7" />
<line x1="501.28" y1="325.70" x2="501.28" y2="327.70" stroke="#3a3a3a" stroke-width="0.7" />
<line x1="505.30" y1="325.70" x2="505.30" y2="327.70" stroke="#3a3a3a" stroke-width="0.7" />
<line x1="508.58" y1="325.70" x2="508.58" y2="327.70" stroke="#3a3a3a" stroke-width="0.7" />
<line x1="511.36" y1="325.70" x2="511.36" y2="327.70" stroke="#3a3a3a" stroke-width="0.7" />
<line x1="513.76" y1="325.70" x2="513.76" y2="327.70" stroke="#3a3a3a" stroke-width="0.7" />
<line x1="515.88" y1="325.70" x2="515.88" y2="327.70" stroke="#3a3a3a" stroke-width="0.7" />
<line x1="517.78" y1="325.70" x2="517.78" y2="329.20" stroke="#3a3a3a" stroke-width="0.9" />
<line x1="530.26" y1="325.70" x2="530.26" y2="327.70" stroke="#3a3a3a" stroke-width="0.7" />
<line x1="537.56" y1="325.70" x2="537.56" y2="327.70" stroke="#3a3a3a" stroke-width="0.7" />
<line x1="542.74" y1="325.70" x2="542.74" y2="327.70" stroke="#3a3a3a" stroke-width="0.7" />
<line x1="546.76" y1="325.70" x2="546.76" y2="327.70" stroke="#3a3a3a" stroke-width="0.7" />
<line x1="550.04" y1="325.70" x2="550.04" y2="327.70" stroke="#3a3a3a" stroke-width="0.7" />
<line x1="552.82" y1="325.70" x2="552.82" y2="327.70" stroke="#3a3a3a" stroke-width="0.7" />
<line x1="555.22" y1="325.70" x2="555.22" y2="327.70" stroke="#3a3a3a" stroke-width="0.7" />
<line x1="557.34" y1="325.70" x2="557.34" y2="327.70" stroke="#3a3a3a" stroke-width="0.7" />
<line x1="559.24" y1="325.70" x2="559.24" y2="329.20" stroke="#3a3a3a" stroke-width="0.9" />
<line x1="571.72" y1="325.70" x2="571.72" y2="327.70" stroke="#3a3a3a" stroke-width="0.7" />
<line x1="579.02" y1="325.70" x2="579.02" y2="327.70" stroke="#3a3a3a" stroke-width="0.7" />
<line x1="584.20" y1="325.70" x2="584.20" y2="327.70" stroke="#3a3a3a" stroke-width="0.7" />
<line x1="588.22" y1="325.70" x2="588.22" y2="327.70" stroke="#3a3a3a" stroke-width="0.7" />
<line x1="591.50" y1="325.70" x2="591.50" y2="327.70" stroke="#3a3a3a" stroke-width="0.7" />
<line x1="594.28" y1="325.70" x2="594.28" y2="327.70" stroke="#3a3a3a" stroke-width="0.7" />
<line x1="596.68" y1="325.70" x2="596.68" y2="327.70" stroke="#3a3a3a" stroke-width="0.7" />
<line x1="598.80" y1="325.70" x2="598.80" y2="327.70" stroke="#3a3a3a" stroke-width="0.7" />
<line x1="600.70" y1="325.70" x2="600.70" y2="329.20" stroke="#3a3a3a" stroke-width="0.9" />
<line x1="613.18" y1="325.70" x2="613.18" y2="327.70" stroke="#3a3a3a" stroke-width="0.7" />
<line x1="620.48" y1="325.70" x2="620.48" y2="327.70" stroke="#3a3a3a" stroke-width="0.7" />
<line x1="625.66" y1="325.70" x2="625.66" y2="327.70" stroke="#3a3a3a" stroke-width="0.7" />
<line x1="629.68" y1="325.70" x2="629.68" y2="327.70" stroke="#3a3a3a" stroke-width="0.7" />
<line x1="632.96" y1="325.70" x2="632.96" y2="327.70" stroke="#3a3a3a" stroke-width="0.7" />
<line x1="635.74" y1="325.70" x2="635.74" y2="327.70" stroke="#3a3a3a" stroke-width="0.7" />
<line x1="638.14" y1="325.70" x2="638.14" y2="327.70" stroke="#3a3a3a" stroke-width="0.7" />
<line x1="640.26" y1="325.70" x2="640.26" y2="327.70" stroke="#3a3a3a" stroke-width="0.7" />
<line x1="642.16" y1="325.70" x2="642.16" y2="329.20" stroke="#3a3a3a" stroke-width="0.9" />
<line x1="654.64" y1="325.70" x2="654.64" y2="327.70" stroke="#3a3a3a" stroke-width="0.7" />
<line x1="661.94" y1="325.70" x2="661.94" y2="327.70" stroke="#3a3a3a" stroke-width="0.7" />
<line x1="667.12" y1="325.70" x2="667.12" y2="327.70" stroke="#3a3a3a" stroke-width="0.7" />
<line x1="671.14" y1="325.70" x2="671.14" y2="327.70" stroke="#3a3a3a" stroke-width="0.7" />
<line x1="674.42" y1="325.70" x2="674.42" y2="327.70" stroke="#3a3a3a" stroke-width="0.7" />
<line x1="677.20" y1="325.70" x2="677.20" y2="327.70" stroke="#3a3a3a" stroke-width="0.7" />
<line x1="679.60" y1="325.70" x2="679.60" y2="327.70" stroke="#3a3a3a" stroke-width="0.7" />
<line x1="681.72" y1="325.70" x2="681.72" y2="327.70" stroke="#3a3a3a" stroke-width="0.7" />
<line x1="683.62" y1="325.70" x2="683.62" y2="329.20" stroke="#3a3a3a" stroke-width="0.9" />
<rect x="393.4" y="1.6" width="290.20000000000005" height="324.09999999999997" fill="none" stroke="#3a3a3a" stroke-width="1"/>
</svg></body></html>
